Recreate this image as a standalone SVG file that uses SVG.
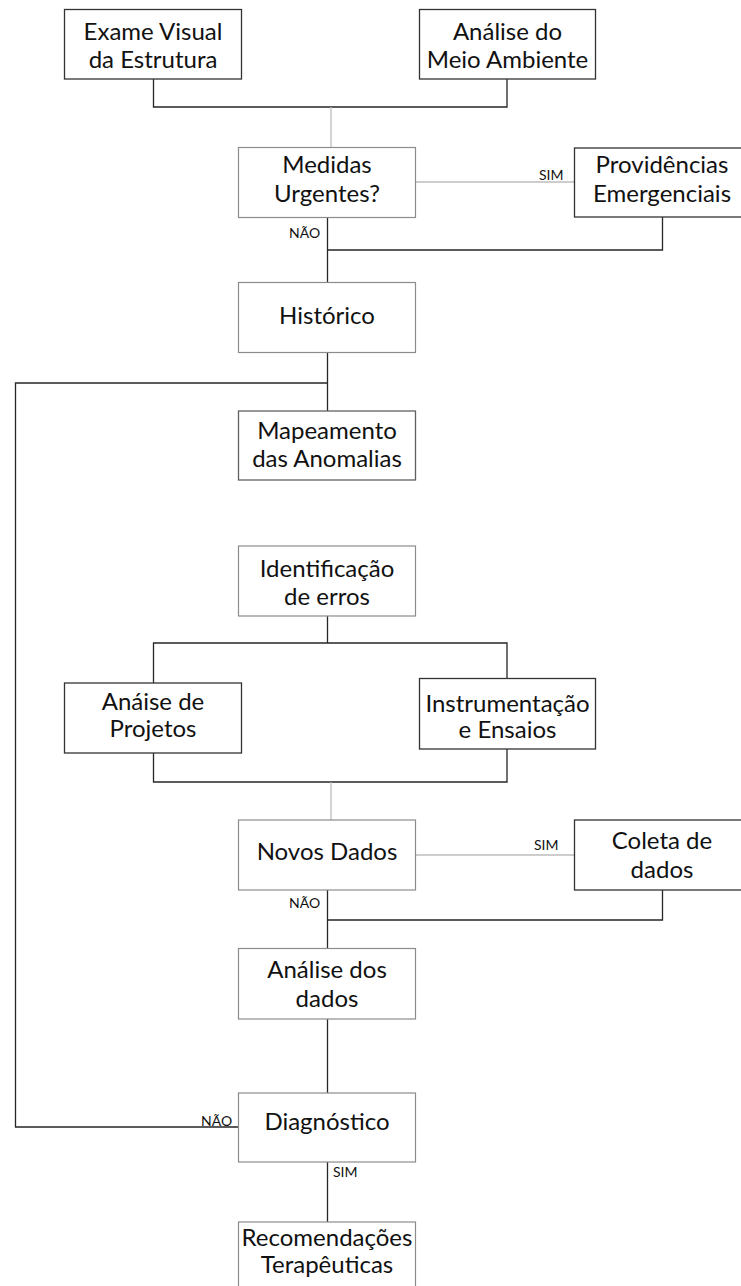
<svg xmlns="http://www.w3.org/2000/svg" width="741" height="1286" viewBox="0 0 741 1286">
<style>
.bg{fill:#fff}
.bd{fill:#fff;stroke:#333;stroke-width:1.3}
.bl{fill:#fff;stroke:#8c8c8c;stroke-width:1.2}
.t{font-family:Lato,"Liberation Sans",sans-serif;font-size:24px;fill:#111;text-anchor:middle}
.s{font-family:Lato,"Liberation Sans",sans-serif;font-size:14px;fill:#111}
.cd{fill:none;stroke:#262626;stroke-width:1.3}
.cg{fill:none;stroke:#bdbdbd;stroke-width:1.3}
</style>
<rect class="bg" x="0" y="0" width="741" height="1286"/>
<g id="connectors">
<path class="cd" d="M153.5 79 V107 H507 V79"/>
<path class="cg" d="M331 107 V147.5"/>
<path class="cg" d="M415.5 182 H574.5"/>
<path class="cd" d="M327.5 217.5 V282.5"/>
<path class="cd" d="M327.5 250 H662.5 V217"/>
<path class="cd" d="M327.5 352.5 V411"/>
<path class="cd" d="M327.5 383 H15.5 V1127 H238.5"/>
<path class="cd" d="M327.5 616 V643"/>
<path class="cd" d="M153.5 683 V643 H507 V678.5"/>
<path class="cd" d="M153.5 753 V782 H507 V749"/>
<path class="cg" d="M331 782 V820"/>
<path class="cg" d="M415.5 855 H574.5"/>
<path class="cd" d="M327.5 890 V948.5"/>
<path class="cd" d="M327.5 920 H662.5 V890"/>
<path class="cd" d="M327.5 1019 V1093"/>
<path class="cd" d="M327.5 1162 V1222"/>
<text class="s" x="539" y="180">SIM</text>
<text class="s" x="289" y="238">NÃO</text>
<text class="s" x="534" y="850">SIM</text>
<text class="s" x="289" y="908">NÃO</text>
<text class="s" x="201" y="1125.5">NÃO</text>
<text class="s" x="333" y="1177">SIM</text>
</g>
<g id="exame"><rect class="bd" x="64.5" y="9.5" width="177" height="69.5"/><text class="t" x="153" y="40">Exame Visual</text><text class="t" x="153" y="68.3">da Estrutura</text></g>
<g id="meio"><rect class="bd" x="419.5" y="9.5" width="176" height="69.5"/><text class="t" x="507.5" y="40">Análise do</text><text class="t" x="507.5" y="68.3">Meio Ambiente</text></g>
<g id="medidas"><rect class="bl" x="238.5" y="147.5" width="177" height="70"/><text class="t" x="327" y="173.3">Medidas</text><text class="t" x="327" y="202">Urgentes?</text></g>
<g id="providencias"><rect class="bd" x="574.5" y="148" width="177" height="69"/><text class="t" x="662" y="173.3">Providências</text><text class="t" x="662" y="201.7">Emergenciais</text></g>
<g id="historico"><rect class="bl" x="238.5" y="282.5" width="177" height="70"/><text class="t" x="327" y="324">Histórico</text></g>
<g id="mapeamento"><rect class="bd" style="stroke:#606060" x="238.5" y="411" width="177" height="69"/><text class="t" x="327" y="439.3">Mapeamento</text><text class="t" x="327" y="466.7">das Anomalias</text></g>
<g id="identificacao"><rect class="bl" x="238.5" y="546" width="177" height="70"/><text class="t" x="327" y="576.7">Identificação</text><text class="t" x="327" y="605">de erros</text></g>
<g id="anaise"><rect class="bd" x="64.5" y="683" width="177" height="70"/><text class="t" x="153" y="710">Anáise de</text><text class="t" x="153" y="737">Projetos</text></g>
<g id="instrumentacao"><rect class="bd" x="419.5" y="678.5" width="176" height="70.5"/><text class="t" x="507.5" y="711.7">Instrumentação</text><text class="t" x="507.5" y="738">e Ensaios</text></g>
<g id="novos"><rect class="bl" x="238.5" y="820" width="177" height="70"/><text class="t" x="327" y="860">Novos Dados</text></g>
<g id="coleta"><rect class="bd" x="574.5" y="820" width="177" height="70"/><text class="t" x="662" y="849">Coleta de</text><text class="t" x="662" y="878">dados</text></g>
<g id="analise-dados"><rect class="bl" x="238.5" y="948.5" width="177" height="70.5"/><text class="t" x="327" y="978.3">Análise dos</text><text class="t" x="327" y="1006.7">dados</text></g>
<g id="diagnostico"><rect class="bl" x="238.5" y="1093" width="177" height="69"/><text class="t" x="327" y="1129.5">Diagnóstico</text></g>
<g id="recomendacoes"><rect class="bl" x="238.5" y="1222" width="177" height="70"/><text class="t" x="327" y="1245.7">Recomendações</text><text class="t" x="327" y="1273.3">Terapêuticas</text></g>
</svg>
